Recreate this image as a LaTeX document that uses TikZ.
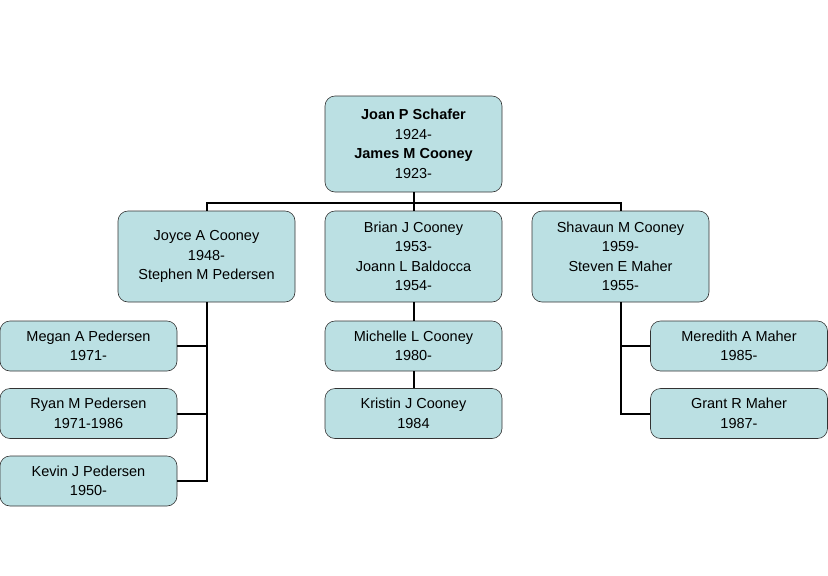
\documentclass[tikz,border=0pt]{standalone}
\usepackage{fontspec}
\setmainfont{Liberation Sans}
\definecolor{boxfill}{RGB}{187,224,227}
\begin{document}
\begin{tikzpicture}[x=1pt,y=-1pt,
  person/.style={draw=black!80,fill=boxfill,rounded corners=10pt,line width=0.6pt,
    minimum width=177pt,align=center,inner sep=0pt,
    font=\fontsize{14.5}{19.5}\selectfont},
  conn/.style={line width=2pt}]
\useasboundingbox (0,0) rectangle (828,576);
\node[person,minimum height=96pt] (top) at (413.5,144) {\textbf{Joan P Schafer}\\1924-\\\textbf{James M Cooney}\\1923-};
\node[person,minimum height=91pt] (joyce) at (206.5,256.5) {Joyce A Cooney\\1948-\\Stephen M Pedersen};
\node[person,minimum height=91pt] (brian) at (413.5,256.5) {Brian J Cooney\\1953-\\Joann L Baldocca\\1954-};
\node[person,minimum height=91pt] (shav) at (620.5,256.5) {Shavaun M Cooney\\1959-\\Steven E Maher\\1955-};
\node[person,minimum height=50pt] (megan) at (88.5,346) {Megan A Pedersen\\1971-};
\node[person,minimum height=50pt] (ryan) at (88.5,413.5) {Ryan M Pedersen\\1971-1986};
\node[person,minimum height=50pt] (kevin) at (88.5,481) {Kevin J Pedersen\\1950-};
\node[person,minimum height=50pt] (mich) at (413.5,346) {Michelle L Cooney\\1980-};
\node[person,minimum height=50pt] (kris) at (413.5,413.5) {Kristin J Cooney\\1984};
\node[person,minimum height=50pt] (mer) at (739,346) {Meredith A Maher\\1985-};
\node[person,minimum height=50pt] (grant) at (739,413.5) {Grant R Maher\\1987-};
\coordinate (bar) at (413.5,203);
\draw[conn] (top.south) -- (bar);
\draw[conn] (joyce.north) |- (bar) -| (shav.north);
\draw[conn] (bar) -- (brian.north);
\draw[conn] (joyce.south) |- (kevin.east);
\draw[conn] (megan.east) -| (joyce.south);
\draw[conn] (ryan.east) -| (joyce.south);
\draw[conn] (brian.south) -- (mich.north);
\draw[conn] (mich.south) -- (kris.north);
\draw[conn] (shav.south) |- (grant.west);
\draw[conn] (mer.west) -| (shav.south);
\end{tikzpicture}
\end{document}
